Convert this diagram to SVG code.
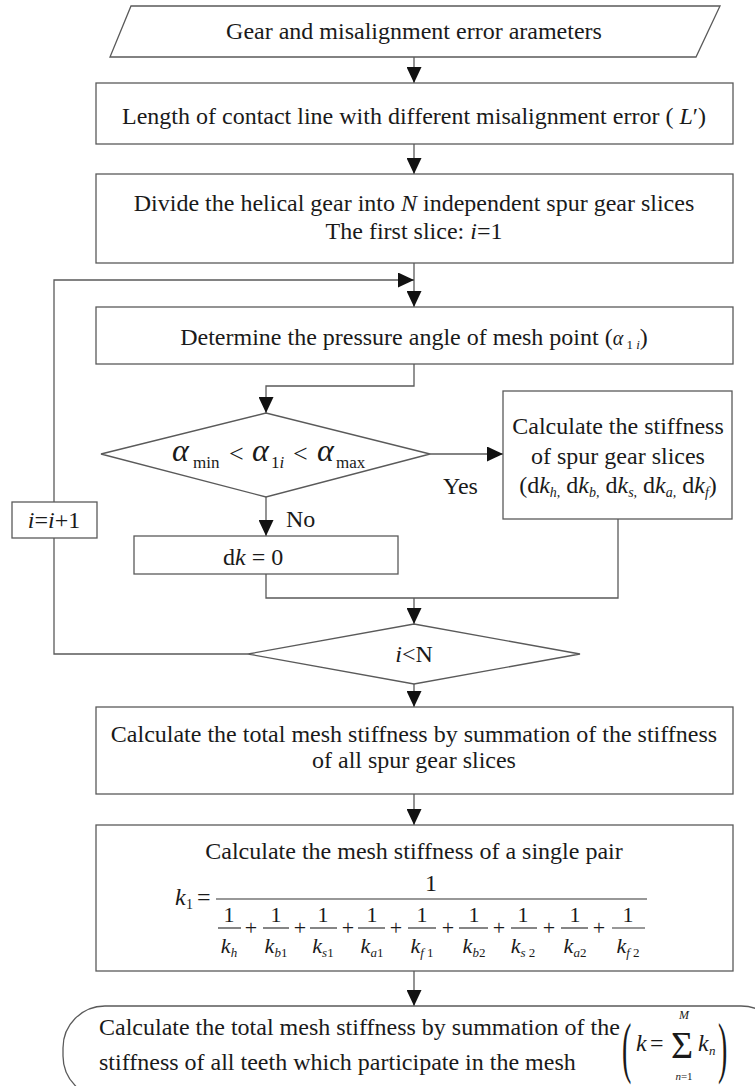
<svg xmlns="http://www.w3.org/2000/svg" width="755" height="1086" viewBox="0 0 755 1086" font-size="24">
<style>
  .bg { fill: #ffffff; }
  .node { fill: #ffffff; stroke: #5a5a5a; stroke-width: 1.3; }
  .conn { fill: none; stroke: #5a5a5a; stroke-width: 1.3; }
  .bar { stroke: #333333; stroke-width: 1.2; }
  text { font-family: "Liberation Serif", "Times New Roman", serif; fill: #1a1a1a; }
  .c { text-anchor: middle; }
  .it { font-style: italic; }
</style>
<defs>
  <marker id="ah" viewBox="0 0 16 15" refX="16" refY="7.5" markerWidth="16" markerHeight="15" markerUnits="userSpaceOnUse" orient="auto">
    <path d="M0,0 L16,7.5 L0,15 z" fill="#111111"/>
  </marker>
</defs>
<rect class="bg" x="0" y="0" width="755" height="1086"/>

<g id="connectors">
  <path class="conn" d="M414,57 V83" marker-end="url(#ah)"/>
  <path class="conn" d="M414,144 V174" marker-end="url(#ah)"/>
  <path class="conn" d="M414,263 V307" marker-end="url(#ah)"/>
  <path class="conn" d="M248,654 H54 V280 H414" marker-end="url(#ah)"/>
  <path class="conn" d="M414,364 V386 H266 V413" marker-end="url(#ah)"/>
  <path class="conn" d="M430,454 H503" marker-end="url(#ah)"/>
  <path class="conn" d="M266,497 V536" marker-end="url(#ah)"/>
  <path class="conn" d="M266,574 V598 H618 V519"/>
  <path class="conn" d="M414,598 V624" marker-end="url(#ah)"/>
  <path class="conn" d="M414,684 V707" marker-end="url(#ah)"/>
  <path class="conn" d="M414,794 V825" marker-end="url(#ah)"/>
  <path class="conn" d="M414,971 V1006" marker-end="url(#ah)"/>
</g>

<g id="n-input">
  <polygon class="node" points="131,6 720,6 696,57 110,57"/>
  <text class="c" x="414" y="39">Gear and misalignment error arameters</text>
</g>

<g id="n-length">
  <rect class="node" x="96" y="83" width="637" height="61"/>
  <text class="c" x="414" y="124">Length of contact line with different misalignment error (  <tspan class="it">L</tspan>′)</text>
</g>

<g id="n-divide">
  <rect class="node" x="96" y="174" width="637" height="89"/>
  <text class="c" x="414" y="211">Divide the helical gear into <tspan class="it">N</tspan> independent spur gear slices</text>
  <text class="c" x="414" y="239">The first slice: <tspan class="it">i</tspan>=1</text>
</g>

<g id="n-pressure">
  <rect class="node" x="96" y="307" width="637" height="57"/>
  <text class="c" x="414" y="345">Determine the pressure angle of mesh point (<tspan class="it" font-size="20">α</tspan><tspan font-size="13" dy="4"> 1 <tspan class="it">i</tspan></tspan><tspan dy="-4">)</tspan></text>
</g>

<g id="n-check">
  <polygon class="node" points="101,454 266,413 430,454 266,497"/>
  <text class="it" x="172" y="461" font-size="32">α</text>
  <text x="193" y="468" font-size="17">min</text>
  <text x="229" y="462" font-size="26">&lt;</text>
  <text class="it" x="252" y="461" font-size="32">α</text>
  <text x="271" y="468" font-size="17">1<tspan class="it">i</tspan></text>
  <text x="293" y="462" font-size="26">&lt;</text>
  <text class="it" x="317" y="461" font-size="32">α</text>
  <text x="336" y="468" font-size="17">max</text>
</g>

<g id="n-slices">
  <rect class="node" x="503" y="391" width="229" height="128"/>
  <text class="c" x="618" y="434">Calculate the stiffness</text>
  <text class="c" x="618" y="464">of spur gear slices</text>
  <text class="c" x="618" y="493">(d<tspan class="it">k</tspan><tspan class="it" font-size="14" dy="4">h,</tspan><tspan dy="-4"> d</tspan><tspan class="it">k</tspan><tspan class="it" font-size="14" dy="4">b,</tspan><tspan dy="-4"> d</tspan><tspan class="it">k</tspan><tspan class="it" font-size="14" dy="4">s,</tspan><tspan dy="-4"> d</tspan><tspan class="it">k</tspan><tspan class="it" font-size="14" dy="4">a,</tspan><tspan dy="-4"> d</tspan><tspan class="it">k</tspan><tspan class="it" font-size="14" dy="4">f</tspan><tspan dy="-4">)</tspan></text>
</g>

<g id="label-yes">
  <text x="443" y="494">Yes</text>
</g>
<g id="label-no">
  <text x="286" y="527">No</text>
</g>

<g id="n-zero">
  <rect class="node" x="134" y="536" width="264" height="38"/>
  <text x="223" y="565">d<tspan class="it">k</tspan> = 0</text>
</g>

<g id="n-increment">
  <rect class="node" x="12" y="502" width="85" height="36"/>
  <text class="c" x="54" y="528"><tspan class="it">i</tspan>=<tspan class="it">i</tspan>+1</text>
</g>

<g id="n-loopcheck">
  <polygon class="node" points="248,654 414,624 580,654 414,684"/>
  <text class="c" x="414" y="662"><tspan class="it">i</tspan>&lt;N</text>
</g>

<g id="n-total-slices">
  <rect class="node" x="96" y="707" width="637" height="87"/>
  <text class="c" x="414" y="742">Calculate the total mesh stiffness by summation of the stiffness</text>
  <text class="c" x="414" y="768">of all spur gear slices</text>
</g>

<g id="n-pair">
  <rect class="node" x="96" y="825" width="637" height="146"/>
  <text class="c" x="414" y="859">Calculate the  mesh stiffness of a single pair</text>
  <text class="it" x="175" y="905">k</text>
  <text x="186" y="909" font-size="14">1</text>
  <text x="197" y="905">=</text>
  <line class="bar" x1="216" y1="899" x2="647" y2="899"/>
  <text class="c" x="431" y="891">1</text>
  <g font-size="22">
    <line class="bar" x1="218" y1="928" x2="241" y2="928"/>
    <text class="c" x="229" y="922">1</text>
    <text class="c" x="229" y="953"><tspan class="it">k</tspan><tspan class="it" font-size="13" dy="4">h</tspan></text>
    <text class="c" x="251" y="935">+</text>

    <line class="bar" x1="263" y1="928" x2="289" y2="928"/>
    <text class="c" x="276" y="922">1</text>
    <text class="c" x="276" y="953"><tspan class="it">k</tspan><tspan font-size="13" dy="4"><tspan class="it">b</tspan>1</tspan></text>
    <text class="c" x="300" y="935">+</text>

    <line class="bar" x1="310" y1="928" x2="337" y2="928"/>
    <text class="c" x="323" y="922">1</text>
    <text class="c" x="323" y="953"><tspan class="it">k</tspan><tspan font-size="13" dy="4"><tspan class="it">s</tspan>1</tspan></text>
    <text class="c" x="348" y="935">+</text>

    <line class="bar" x1="358" y1="928" x2="385" y2="928"/>
    <text class="c" x="372" y="922">1</text>
    <text class="c" x="372" y="953"><tspan class="it">k</tspan><tspan font-size="13" dy="4"><tspan class="it">a</tspan>1</tspan></text>
    <text class="c" x="396" y="935">+</text>

    <line class="bar" x1="408" y1="928" x2="436" y2="928"/>
    <text class="c" x="422" y="922">1</text>
    <text class="c" x="422" y="953"><tspan class="it">k</tspan><tspan font-size="13" dy="4"><tspan class="it">f</tspan> 1</tspan></text>
    <text class="c" x="448" y="935">+</text>

    <line class="bar" x1="459" y1="928" x2="488" y2="928"/>
    <text class="c" x="474" y="922">1</text>
    <text class="c" x="474" y="953"><tspan class="it">k</tspan><tspan font-size="13" dy="4"><tspan class="it">b</tspan>2</tspan></text>
    <text class="c" x="499" y="935">+</text>

    <line class="bar" x1="511" y1="928" x2="537" y2="928"/>
    <text class="c" x="523" y="922">1</text>
    <text class="c" x="523" y="953"><tspan class="it">k</tspan><tspan font-size="13" dy="4"><tspan class="it">s</tspan> 2</tspan></text>
    <text class="c" x="549" y="935">+</text>

    <line class="bar" x1="561" y1="928" x2="588" y2="928"/>
    <text class="c" x="575" y="922">1</text>
    <text class="c" x="575" y="953"><tspan class="it">k</tspan><tspan font-size="13" dy="4"><tspan class="it">a</tspan>2</tspan></text>
    <text class="c" x="599" y="935">+</text>

    <line class="bar" x1="612" y1="928" x2="645" y2="928"/>
    <text class="c" x="628" y="922">1</text>
    <text class="c" x="628" y="953"><tspan class="it">k</tspan><tspan font-size="13" dy="4"><tspan class="it">f</tspan> 2</tspan></text>
  </g>
</g>

<g id="n-total-teeth">
  <rect class="node" x="63" y="1006" width="720" height="92" rx="42" ry="42"/>
  <text x="99" y="1035">Calculate the total mesh stiffness by summation of the</text>
  <text x="99" y="1070">stiffness of all teeth which participate in the mesh</text>
  <text transform="translate(622,1070) scale(1,2.4)" font-size="28">(</text>
  <text class="it" x="636" y="1051">k</text>
  <text x="650" y="1051">=</text>
  <text x="671" y="1058" font-size="38">Σ</text>
  <text class="c it" x="684" y="1019" font-size="12">M</text>
  <text class="c" x="684" y="1080" font-size="11"><tspan class="it">n</tspan>=1</text>
  <text class="it" x="698" y="1051">k</text>
  <text class="it" x="709" y="1055" font-size="13">n</text>
  <text transform="translate(718,1070) scale(1,2.4)" font-size="28">)</text>
</g>
</svg>
